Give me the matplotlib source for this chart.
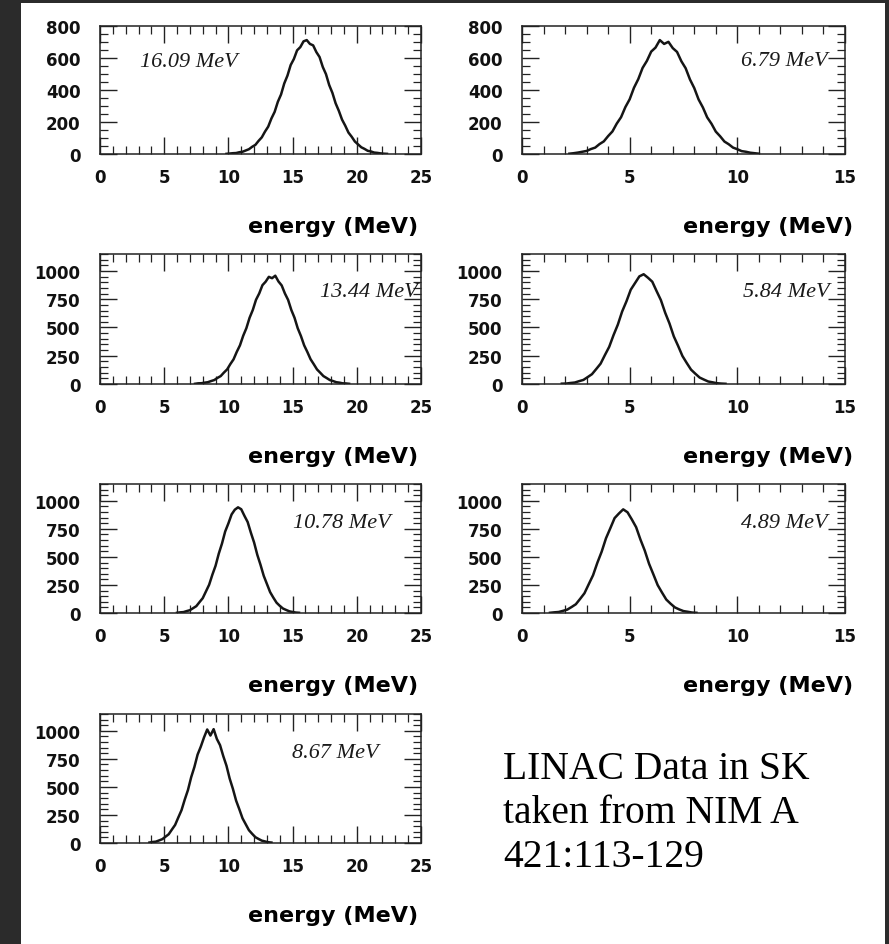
import numpy as np
import matplotlib.pyplot as plt
from matplotlib.patches import Rectangle
from matplotlib.ticker import MultipleLocator

# ---- LINAC energy spectra (counts per bin) ----
beam_labels = ["16.09 MeV", "6.79 MeV", "13.44 MeV", "5.84 MeV",
               "10.78 MeV", "4.89 MeV", "8.67 MeV"]
x_max = [25, 15, 25, 15, 25, 15, 25]
y_max = [800, 800, 1150, 1150, 1150, 1150, 1150]
y_major = [200, 200, 250, 250, 250, 250, 250]

# first bin centre and bin width (MeV) for each spectrum
bin_first = [9.85, 2.2, 7.4, 1.85, 6.0, 1.3, 3.85]
bin_width = [0.25, 0.2, 0.25, 0.2, 0.25, 0.2, 0.25]

counts_1609 = [1, 3, 5, 6, 11, 14, 22, 30, 45, 57, 82, 104, 140, 171, 222, 263,
               326, 372, 441, 490, 556, 594, 648, 668, 704, 712,
               688, 679, 637, 606, 544, 499, 431, 382, 317, 270, 215, 177, 134,
               108, 78, 60, 42, 32, 20, 16, 9, 7, 4, 2, 1]
counts_679 = [2, 5, 9, 14, 19, 31, 40, 62, 79, 112, 141, 190, 230, 293, 342,
              414, 468, 538, 582, 640, 665, 712, 688,
              701, 662, 638, 580, 536, 466, 412, 341, 291, 229, 189, 140, 111,
              78, 61, 40, 30, 18, 14, 8, 5, 2]
counts_1344 = [2, 6, 7, 12, 16, 26, 35, 54, 70, 101, 129, 176, 218, 284, 342,
               426, 494, 586, 655, 745, 801, 874, 905, 948, 936,
               958, 907, 872, 801, 744, 655, 586, 493, 424, 342, 283, 219, 175,
               129, 100, 70, 53, 35, 26, 16, 12, 6, 5, 2]
counts_584 = [3, 4, 9, 13, 25, 36, 61, 87, 133, 180, 256, 329, 432, 525, 641,
              731, 834, 893, 952, 971,
              940, 905, 822, 742, 630, 535, 421, 337, 248, 186, 127, 91, 57,
              39, 22, 15, 7, 4, 2]
counts_1078 = [2, 6, 8, 17, 25, 43, 61, 97, 132, 192, 252, 341, 421, 529, 619,
               727, 799, 879, 921, 942,
               925, 866, 811, 716, 629, 519, 430, 332, 259, 186, 137, 92, 64,
               40, 27, 15, 9, 4, 2]
counts_489 = [2, 6, 9, 19, 30, 53, 78, 126, 176, 257, 337, 448, 547, 666, 755,
              846, 887, 924,
              898, 834, 765, 655, 557, 439, 345, 249, 183, 120, 83, 50, 32, 17,
              11, 4, 2]
counts_867 = [4, 9, 12, 23, 34, 56, 78, 120, 161, 228, 293, 387, 472, 586, 677,
              788, 859, 941, 1012, 958,
              1015, 928, 872, 775, 689, 574, 483, 378, 301, 220, 167, 114, 82,
              52, 36, 21, 14, 7, 4]

spectra = [counts_1609, counts_679, counts_1344, counts_584,
           counts_1078, counts_489, counts_867]

# ---- page layout (pixels) ----
W, H = 889, 945
fig = plt.figure(figsize=(W / 100, H / 100), dpi=100, facecolor='#2b2b2b')
fig.patches.append(Rectangle((21 / W, 0), (885 - 21) / W, (945 - 4) / H,
                             transform=fig.transFigure, facecolor='white',
                             edgecolor='none', zorder=-10))

col_lr = [(100, 421), (522, 845)]
row_tb = [(27, 155), (255, 385), (485, 614), (715, 844)]
xlabel_right = [418, 853]

# where each beam-energy tag sits inside its frame (axes fraction, alignment)
tag_pos = [(0.125, 0.72, 'left'), (0.947, 0.727, 'right'),
           (0.99, 0.708, 'right'), (0.953, 0.708, 'right'),
           (0.601, 0.705, 'left'), (0.947, 0.705, 'right'),
           (0.598, 0.705, 'left')]

for i, counts in enumerate(spectra):
    row, col = divmod(i, 2)
    l, r = col_lr[col]
    t, b = row_tb[row]
    ax = fig.add_axes([l / W, 1 - b / H, (r - l) / W, (b - t) / H])
    ax.set_facecolor('none')

    c = np.asarray(counts, dtype=float)
    centres = bin_first[i] + bin_width[i] * np.arange(len(c))
    ax.plot(centres, c, color='#151515', linewidth=1.8, solid_joinstyle='round')

    ax.set_xlim(0, x_max[i])
    ax.set_ylim(0, y_max[i])
    ax.xaxis.set_major_locator(MultipleLocator(5))
    ax.xaxis.set_minor_locator(MultipleLocator(1))
    ax.yaxis.set_major_locator(MultipleLocator(y_major[i]))
    ax.yaxis.set_minor_locator(MultipleLocator(50))
    ax.tick_params(which='both', direction='in', top=True, right=True,
                   color='#222222')
    ax.tick_params(which='major', length=12, width=1.0)
    ax.tick_params(which='minor', length=6, width=0.9)
    ax.tick_params(axis='x', which='major', pad=10)
    ax.tick_params(axis='y', which='major', pad=14)
    for lab in ax.get_xticklabels() + ax.get_yticklabels():
        lab.set_family('DejaVu Sans')
        lab.set_weight('bold')
        lab.set_size(12)
        lab.set_color('#111111')
    for sp in ax.spines.values():
        sp.set_linewidth(1.1)
        sp.set_color('#222222')

    tx, ty, ha = tag_pos[i]
    ax.text(tx, ty, beam_labels[i], transform=ax.transAxes, ha=ha, va='center',
            family='Liberation Serif', style='italic', size=16, color='#1a1a1a')

    fig.text(xlabel_right[col] / W, 1 - (b + 78) / H, 'energy (MeV)',
             ha='right', va='baseline', family='DejaVu Sans', weight='bold',
             size=16, color='black')

# ---- source note ----
note_lines = ["LINAC Data in SK", "taken from NIM A", "421:113-129"]
for k, line in enumerate(note_lines):
    fig.text(503 / W, 1 - (779 + 44 * k) / H, line, ha='left', va='baseline',
             family='Liberation Serif', size=28.5, color='black')

fig.savefig('out.png', dpi=100, facecolor=fig.get_facecolor())
